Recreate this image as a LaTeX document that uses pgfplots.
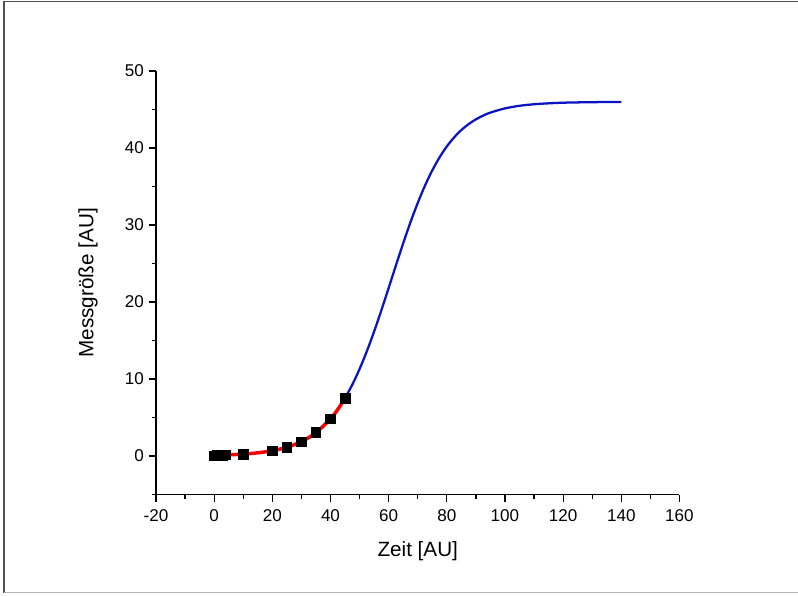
\documentclass[border=0pt]{standalone}
\usepackage{fontspec}
\setmainfont{Liberation Sans}
\usepackage{pgfplots}
\pgfplotsset{compat=1.18}
\definecolor{oblue}{HTML}{0A14C0}
\definecolor{framedark}{HTML}{505050}
\definecolor{framelight}{HTML}{B4B4B4}
\begin{document}
\begin{tikzpicture}
\begin{axis}[
  scale only axis,
  width=392.6pt, height=317.6pt,
  xmin=-20, xmax=160, ymin=-5, ymax=50,
  axis lines*=left,
  axis line style={line width=0.9pt},
  xtick={-20,0,...,160},
  ytick={0,10,...,50},
  minor xtick={-10,10,...,150},
  minor ytick={-5,5,...,45},
  tick align=outside,
  major tick length=5.5pt,
  minor tick length=3pt,
  every tick/.style={black, line width=0.9pt},
  tick label style={font=\fontsize{12.8}{14}\selectfont},
  xticklabel style={yshift=-2.5pt},
  /pgf/number format/assume math mode=true,
  xlabel={Zeit [AU]},
  ylabel={Messgröße [AU]},
  label style={font=\fontsize{15.5}{18}\selectfont},
  xlabel style={at={(axis description cs:0.5,-0.133)}, anchor=center},
  ylabel style={at={(axis description cs:-0.130,0.5)}, anchor=center},
  clip=false,
]
% blue fitted logistic
\addplot[oblue, line width=1.7pt, smooth, no marks] coordinates {
(45,7.524) (47.5,9.27) (50,11.30) (52.5,13.61) (55,16.17) (57.5,18.94)
(60,21.83) (62.5,24.76) (65,27.63) (67.5,30.36) (70,32.87) (72.5,35.13)
(75,37.10) (77.5,38.79) (80,40.21) (82.5,41.38) (85,42.34) (87.5,43.11)
(90,43.73) (92.5,44.22) (95,44.61) (100,45.15) (105,45.49) (110,45.69)
(115,45.81) (120,45.89) (125,45.93) (130,45.96) (140,45.99)
};
% measured points
\addplot[only marks, mark=square*, mark size=3.6pt, black] coordinates {
(0,0.05) (1,0.08) (2,0.10) (3,0.12) (4,0.15) (10,0.26) (20,0.69)
(25,1.10) (30,1.87) (35,3.08) (40,4.85) (45,7.53)
};
% red fit over data range
\addplot[red, line width=2.6pt, smooth, no marks] coordinates {
(0,0.091) (5,0.152) (10,0.252) (15,0.418) (20,0.692) (25,1.141)
(30,1.868) (35,3.030) (40,4.833) (42.5,6.053) (45,7.524)
};
\end{axis}
% frame and bounding box
\useasboundingbox (-117pt,-75.4pt) rectangle (481.5pt,370.9pt);
\draw[framedark, line width=1.1pt] (-114pt,-74pt) -- (-114pt,369.7pt) -- (481.5pt,369.7pt);
\draw[framelight, line width=0.9pt] (-114pt,-73.6pt) -- (481.5pt,-73.6pt);
\end{tikzpicture}
\end{document}
